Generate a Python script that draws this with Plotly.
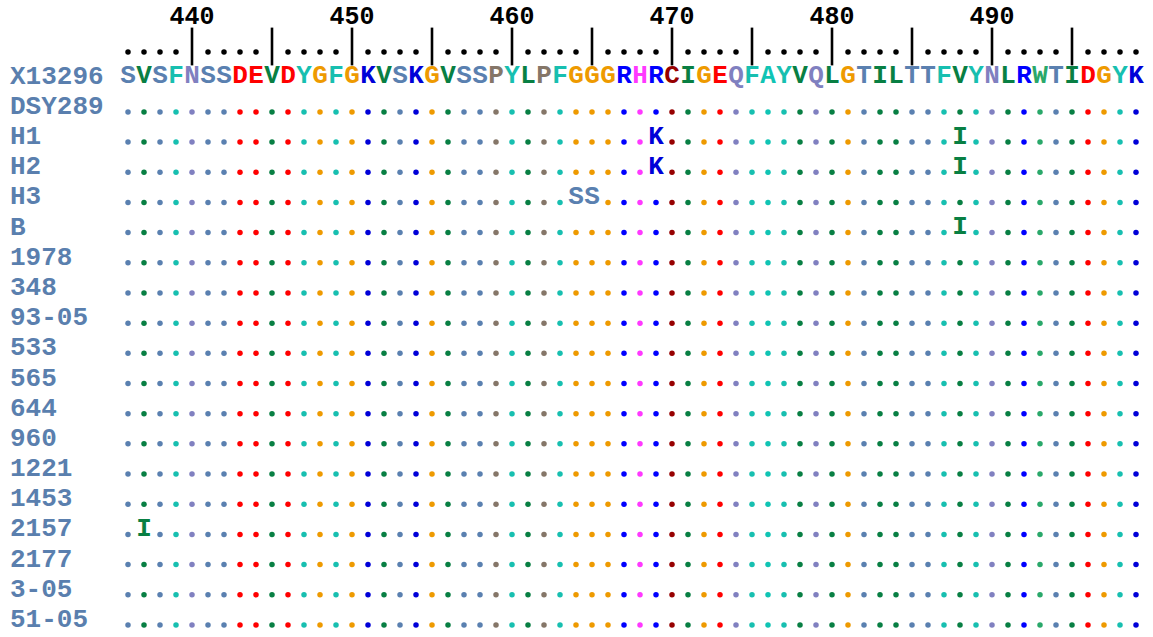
import plotly.graph_objects as go

start_pos = 436
reference_name = "X13296"
reference_seq = "SVSFNSSDEVDYGFGKVSKGVSSPYLPFGGGRHRCIGEQFAYVQLGTILTTFVYNLRWTIDGYK"
strain_names = ["DSY289", "H1", "H2", "H3", "B", "1978", "348", "93-05", "533",
                "565", "644", "960", "1221", "1453", "2157", "2177", "3-05", "51-05"]
# substitutions relative to reference: strain -> {position: residue}
substitutions = {
    "H1": {469: "K", 488: "I"},
    "H2": {469: "K", 488: "I"},
    "H3": {464: "S", 465: "S"},
    "B": {488: "I"},
    "2157": {437: "I"},
}
tick_every = 5
label_every = 10

residue_colors = {
    "S": "#5a80b0", "T": "#5a80b0",
    "V": "#087f43", "L": "#087f43", "I": "#087f43",
    "F": "#17bfb0", "Y": "#17bfb0", "A": "#10c4b4",
    "N": "#8080c0", "Q": "#8080c0",
    "D": "#ff0000", "E": "#ff0000",
    "G": "#ee9a00",
    "K": "#0000d8", "R": "#0000ff",
    "P": "#857668",
    "H": "#ff38ff",
    "C": "#960000",
    "W": "#2aa86a",
}
label_color = "#5a7fae"
FONT = "Courier New, Liberation Mono, monospace"

positions = [start_pos + i for i in range(len(reference_seq))]

# layout geometry
W, H = 1153, 637
px_per_res = 16.0
x_first_px = 128.0
x0 = start_pos - x_first_px / px_per_res
x1 = x0 + W / px_per_res
row0_px = 76.7
row_h = 30.18
y_top = -row0_px / row_h
y_bot = (H - row0_px) / row_h

def py(p):
    return (p - row0_px) / row_h

dot_off = 5.0 / row_h

fig = go.Figure()

# header numbers
num_pos = [p for p in positions if p % label_every == 0]
fig.add_trace(go.Scatter(
    x=num_pos, y=[py(18)] * len(num_pos), mode="text",
    text=[str(p) for p in num_pos],
    textfont=dict(family=FONT, size=25, color="black", weight="bold"),
    textposition="middle center", hoverinfo="skip"))

# ruler dots and bars
dot_pos = [p for p in positions if p % tick_every != 0]
bar_pos = [p for p in positions if p % tick_every == 0]
fig.add_trace(go.Scatter(
    x=dot_pos, y=[py(52)] * len(dot_pos), mode="markers",
    marker=dict(size=5.5, color="black"), hoverinfo="skip"))
fig.add_trace(go.Scatter(
    x=bar_pos, y=[py(46.5)] * len(bar_pos), mode="markers",
    marker=dict(symbol="line-ns", size=27, line=dict(width=2.6, color="black")),
    hoverinfo="skip"))

# reference sequence letters
fig.add_trace(go.Scatter(
    x=positions, y=[0] * len(positions), mode="text",
    text=list(reference_seq),
    textfont=dict(family=FONT, size=26, weight="bold",
                  color=[residue_colors[c] for c in reference_seq]),
    textposition="middle center", hoverinfo="skip"))

# strain rows
dx, dy, dc = [], [], []
lx, ly, lt, lc = [], [], [], []
for r, name in enumerate(strain_names, start=1):
    subs = substitutions.get(name, {})
    for p, c in zip(positions, reference_seq):
        if p in subs:
            lx.append(p); ly.append(r); lt.append(subs[p]); lc.append(residue_colors[subs[p]])
        else:
            dx.append(p); dy.append(r + dot_off); dc.append(residue_colors[c])

fig.add_trace(go.Scatter(
    x=dx, y=dy, mode="markers", marker=dict(size=5.5, color=dc), hoverinfo="skip"))
fig.add_trace(go.Scatter(
    x=lx, y=ly, mode="text", text=lt,
    textfont=dict(family=FONT, size=26, weight="bold", color=lc),
    textposition="middle center", hoverinfo="skip"))

# row labels
all_names = [reference_name] + strain_names
for r, name in enumerate(all_names):
    fig.add_annotation(x=x0 + 8.0 / px_per_res, y=r, text=name, showarrow=False,
                       xanchor="left", yanchor="middle",
                       font=dict(family=FONT, size=26, color=label_color, weight="bold"))

fig.update_layout(
    width=W, height=H, margin=dict(l=0, r=0, t=0, b=0),
    paper_bgcolor="white", plot_bgcolor="white", showlegend=False,
    xaxis=dict(range=[x0, x1], visible=False, fixedrange=True),
    yaxis=dict(range=[y_bot, y_top], visible=False, fixedrange=True),
)
fig.write_html("out.html", config={"displayModeBar": False, "staticPlot": True},
               post_script="document.body.style.margin='0';document.body.style.overflow='hidden';")
